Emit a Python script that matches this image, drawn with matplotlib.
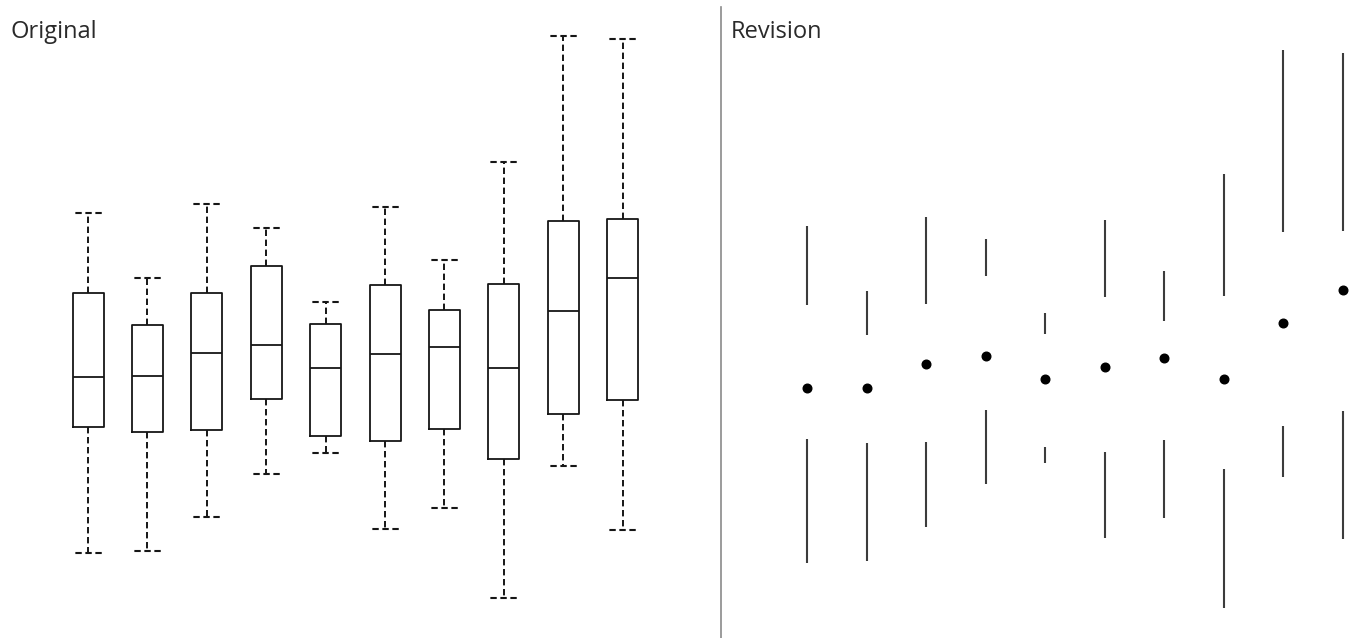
import matplotlib
matplotlib.use("Agg")
import matplotlib.pyplot as plt
from matplotlib.lines import Line2D

plt.rcParams['lines.scale_dashes'] = False

# ---- data (heights measured upward from the bottom of the figure, in px units) ----
H = 638
groups = list(range(1, 11))

# Original panel: five-number summaries
orig_whishi = [H - v for v in [213, 278, 204, 228, 302, 207, 260, 162, 36, 39]]
orig_q3     = [H - v for v in [293, 325, 293, 266, 324, 285, 310, 284, 221, 219]]
orig_med    = [H - v for v in [377, 376, 353, 345, 368, 354, 347, 368, 311, 278]]
orig_q1     = [H - v for v in [427, 432, 430, 399, 436, 441, 429, 459, 414, 400]]
orig_whislo = [H - v for v in [553, 551, 517, 474, 453, 529, 508, 598, 466, 530]]

# Revision panel: whisker spans and medians
rev_whishi = [H - v for v in [226, 291, 217, 239, 313, 220, 271, 174, 50, 53]]
rev_q3     = [H - v for v in [305, 335, 304, 276, 334, 297, 321, 296, 232, 231]]
rev_med    = [H - v for v in [388, 388, 364, 356, 379, 367, 358, 379, 323, 290]]
rev_q1     = [H - v for v in [439, 443, 442, 410, 447, 452, 440, 469, 426, 411]]
rev_whislo = [H - v for v in [563, 561, 527, 484, 463, 538, 518, 608, 477, 539]]

W = 1366
fig = plt.figure(figsize=(W / 100, H / 100), dpi=100)
fig.patch.set_facecolor('white')

# ---- left panel ----
step_l = 59.4
c0_l = 88.0
left_px = 720
axl = fig.add_axes([0, 0, left_px / W, 1])
axl.set_xlim(1 - c0_l / step_l, 1 + (left_px - c0_l) / step_l)
axl.set_ylim(0, H)
axl.axis('off')

stats = []
for i in range(len(groups)):
    stats.append(dict(med=orig_med[i], q1=orig_q1[i], q3=orig_q3[i],
                      whislo=orig_whislo[i], whishi=orig_whishi[i], fliers=[]))
bw = 31 / step_l
ink = '#161616'
axl.bxp(stats, positions=groups, widths=bw, capwidths=bw, showfliers=False,
        boxprops=dict(color=ink, linewidth=1.3),
        medianprops=dict(color=ink, linewidth=1.3),
        whiskerprops=dict(color=ink, linewidth=1.4, linestyle=(0, (4.6, 2.6))),
        capprops=dict(color=ink, linewidth=1.5, linestyle=(5.5, (4.6, 2.6))))

# ---- right panel ----
step_r = 59.5
c0_r = 807.0
right_start = 721
axr = fig.add_axes([right_start / W, 0, (W - right_start) / W, 1])
axr.set_xlim(1 - (c0_r - right_start) / step_r, 1 + (W - c0_r) / step_r)
axr.set_ylim(0, H)
axr.axis('off')
axr.vlines(groups, rev_q3, rev_whishi, color='#3c3c3c', linewidth=1.5)
axr.vlines(groups, rev_whislo, rev_q1, color='#3c3c3c', linewidth=1.5)
axr.plot(groups, rev_med, linestyle='none', marker='o', markersize=6.2,
         color='black')

# divider
fig.add_artist(Line2D([721 / W, 721 / W], [0, 1 - 7 / H], color='#8a8a8a',
                      linewidth=1.2, transform=fig.transFigure))

# titles
fig.text(11 / W, 1 - 38 / H, 'Original', fontsize=17, family='Open Sans',
         color='#2a2a2a', ha='left', va='baseline')
fig.text(731 / W, 1 - 38 / H, 'Revision', fontsize=17, family='Open Sans',
         color='#2a2a2a', ha='left', va='baseline')

fig.savefig('out.png', dpi=100, facecolor='white')
